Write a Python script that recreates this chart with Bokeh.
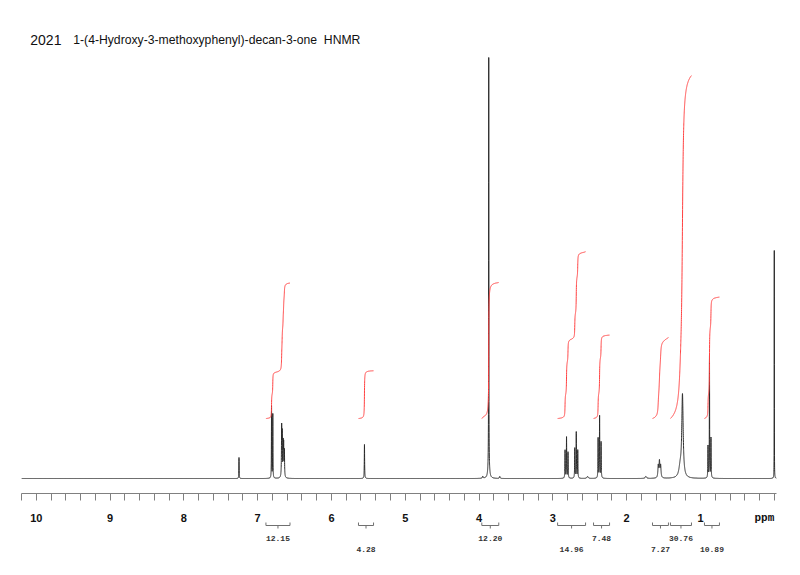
import numpy as np
from bokeh.plotting import figure
from bokeh.models import Range1d, FixedTicker, Label, ColumnDataSource
from bokeh.layouts import column
from bokeh.embed import file_html
from bokeh.resources import INLINE
from bokeh.core.properties import value

# ---- data ----
peak_ppm = [7.253, 6.812, 6.795, 6.675, 6.668, 6.655, 6.648, 6.638, 5.553,
            3.95, 3.869, 3.869, 3.72,
            2.835, 2.815, 2.795, 2.703, 2.683, 2.663, 2.53,
            2.387, 2.367, 2.347, 1.74,
            1.572, 1.556, 1.540, 1.275, 1.244,
            0.898, 0.878, 0.858, 0.0]
peak_height = [21, 72, 64, 48, 40, 32, 30, 26, 34,
               2, 405, 16, 2,
               28, 41, 26, 30, 46, 28, 2,
               40, 62, 36, 2,
               12, 16, 12, 10, 82,
               32, 122, 40, 228]
peak_width = [0.004, 0.004, 0.004, 0.006, 0.006, 0.006, 0.006, 0.006, 0.005,
              0.01, 0.003, 0.02, 0.01,
              0.005, 0.005, 0.005, 0.005, 0.005, 0.005, 0.02,
              0.005, 0.005, 0.005, 0.02,
              0.012, 0.012, 0.012, 0.04, 0.022,
              0.005, 0.004, 0.005, 0.002]

int_start = [6.888, 5.634, 3.963, 2.936, 2.449, 1.650, 1.407, 0.946]
int_end = [6.562, 5.430, 3.733, 2.557, 2.232, 1.434, 1.122, 0.743]
int_value = [12.15, 4.28, 12.20, 14.96, 7.48, 7.27, 30.76, 10.89]
int_label = ["12.15", "4.28", "12.20", "14.96", "7.48", "7.27", "30.76", "10.89"]
int_row = [0, 1, 0, 1, 0, 1, 0, 1]

major_ticks = list(range(0, 11))
tick_labels = ["ppm", "1", "2", "3", "4", "5", "6", "7", "8", "9", "10"]
all_ticks = [round(0.2 * i, 1) for i in range(0, 52)]

title_year = "2021"
title_text = "1-(4-Hydroxy-3-methoxyphenyl)-decan-3-one\u00a0 HNMR"

# ---- spectrum from the peak list (Lorentzian lines) ----
x = np.round(np.arange(-0.03, 10.2, 0.0005), 4)
y = np.zeros_like(x)
for c, h, w in zip(peak_ppm, peak_height, peak_width):
    hw = w / 2.0
    y += h * hw * hw / ((x - c) ** 2 + hw * hw)

INT_OFFSET = 60.0
INT_SCALE = 11.15

int_xs, int_ys = [], []
for s, e, v in zip(int_start, int_end, int_value):
    m = (x <= s) & (x >= e)
    xs = x[m][::-1]
    ys = y[m][::-1]
    cum = np.cumsum(ys)
    cum = cum / cum[-1] * v * INT_SCALE + INT_OFFSET
    int_xs.append(list(xs))
    int_ys.append(list(cum))

LEFT, RIGHT = 21, 16
W = 792

# ---- main figure (spectrum, ticks) ----
p = figure(width=W, height=503, x_range=Range1d(10.2, -0.03), y_range=Range1d(-15, 470),
           output_backend="svg", toolbar_location=None,
           min_border_left=LEFT, min_border_right=RIGHT, min_border_top=8, min_border_bottom=10,
           y_axis_location=None)
p.xgrid.visible = False
p.ygrid.visible = False
p.outline_line_color = None
p.background_fill_color = "white"

p.line(x, y, line_color="#2a2a2a", line_width=1)
p.multi_line(int_xs, int_ys, line_color="#ff4040", line_width=1)

ax = p.xaxis[0]
ax.ticker = FixedTicker(ticks=[], minor_ticks=all_ticks)
ax.axis_line_color = "#808080"
ax.minor_tick_line_color = "#808080"
ax.major_tick_line_color = None
ax.minor_tick_in = 0
ax.minor_tick_out = 7

p.add_layout(Label(x=10.081, y=439, text=title_year, text_align="left", text_baseline="alphabetic",
                   text_font="Liberation Sans", text_font_size="14px",
                   text_color="#111111"))
p.add_layout(Label(x=9.499, y=439, text=title_text, text_align="left", text_baseline="alphabetic",
                   text_font="Liberation Sans", text_font_size="12.2px", text_color="#111111"))

# ---- tick labels and integration brackets ----
p2 = figure(width=W, height=64, x_range=p.x_range, y_range=Range1d(64, 0),
            output_backend="svg", toolbar_location=None,
            min_border_left=LEFT, min_border_right=RIGHT, min_border_top=0, min_border_bottom=0,
            x_axis_location=None, y_axis_location=None)
p2.xgrid.visible = False
p2.ygrid.visible = False
p2.outline_line_color = None

num_src = ColumnDataSource(dict(x=major_ticks[1:], y=[14] * (len(major_ticks) - 1), t=tick_labels[1:]))
p2.text(x="x", y="y", text="t", source=num_src, text_align="center", text_baseline="alphabetic",
        text_font=value("Liberation Sans"), text_font_style="bold", text_font_size="11px",
        text_color="#111111")
ppm_src = ColumnDataSource(dict(x=major_ticks[:1], y=[14], t=tick_labels[:1]))
p2.text(x="x", y="y", text="t", source=ppm_src, text_align="right", text_baseline="alphabetic",
        text_font=value("Liberation Mono"), text_font_style="bold", text_font_size="11px",
        text_color="#111111")

mid = [(s + e) / 2.0 for s, e in zip(int_start, int_end)]
n = len(int_start)
BR_Y = 22
seg = ColumnDataSource(dict(
    x0=int_start + int_start + int_end + mid,
    x1=int_end + int_start + int_end + mid,
    y0=[BR_Y] * n + [BR_Y] * n + [BR_Y] * n + [BR_Y] * n,
    y1=[BR_Y] * n + [BR_Y - 3] * n + [BR_Y - 3] * n + [BR_Y + 3] * n,
))
p2.segment(x0="x0", y0="y0", x1="x1", y1="y1", source=seg, line_color="#707070", line_width=1)

lab = ColumnDataSource(dict(x=mid, y=[35 if r == 0 else 46 for r in int_row], t=int_label))
p2.text(x="x", y="y", text="t", source=lab, text_align="center", text_baseline="middle",
        text_font=value("Liberation Mono"), text_font_style="bold", text_font_size="8px",
        text_color="#333333")

layout = column(p, p2, spacing=0)
open("out.html", "w").write(file_html(layout, INLINE))
